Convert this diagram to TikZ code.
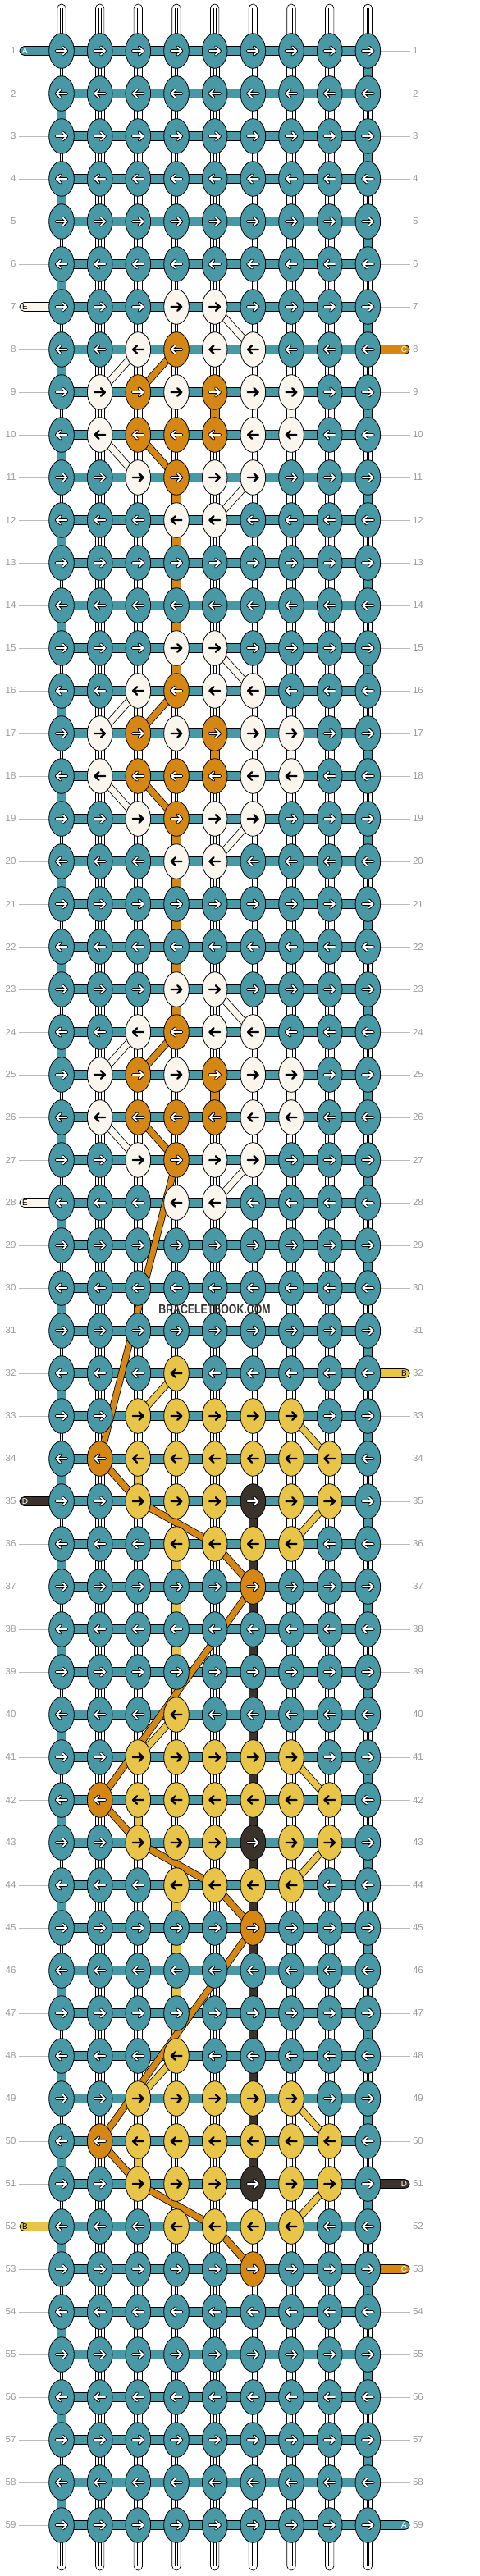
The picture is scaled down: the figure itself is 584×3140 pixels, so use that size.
\documentclass[tikz,border=0pt]{standalone}
\usepackage{fontspec}
\setmainfont{Liberation Sans}
\usetikzlibrary{shapes.geometric,calc}

\definecolor{kA}{HTML}{4898A6}
\definecolor{kB}{HTML}{E8C548}
\definecolor{kC}{HTML}{D58716}
\definecolor{kD}{HTML}{3A332B}
\definecolor{kE}{HTML}{FAF6EE}
\definecolor{numgray}{HTML}{999999}
\definecolor{linegray}{HTML}{BBBBBB}

\newcommand{\setknot}[3]{\expandafter\xdef\csname kc-#1-#2\endcsname{#3}}
\newcommand{\setvert}[3]{\expandafter\xdef\csname vc-#1-#2\endcsname{#3}}

\tikzset{
  knot/.style={ellipse,draw=black,line width=0.8pt,minimum width=30.6pt,minimum height=42.6pt,inner sep=0pt},
  bar/.style={fill=kA,draw=black,line width=0.8pt},
  strand/.style={fill=white,draw=black,line width=0.7pt},
  strandmid/.style={draw=black,line width=0.5pt},
  rowline/.style={linegray,line width=0.9pt},
  rownum/.style={text=numgray,font=\fontsize{11.5}{12}\selectfont},
  endlbl/.style={font=\fontsize{10}{10}\selectfont,inner sep=0pt},
  arroutA/.style={black,line width=3.8pt},
  arroutC/.style={black,line width=3.8pt},
  arroutD/.style={black,line width=3.8pt},
  arroutB/.style={draw=none},
  arroutE/.style={draw=none},
  arrinA/.style={white,line width=1.8pt},
  arrinC/.style={white,line width=1.8pt},
  arrinD/.style={white,line width=1.8pt},
  arrinB/.style={black,line width=2.4pt},
  arrinE/.style={black,line width=2.4pt},
  lblA/.style={text=white},
  lblB/.style={text=black},
  lblC/.style={text=white},
  lblD/.style={text=white},
  lblE/.style={text=black}
}

\begin{document}
\begin{tikzpicture}[x=1pt,y=-1pt]
\useasboundingbox (0,0) rectangle (584,3140);

\foreach \rw in {1,...,59}
  \foreach \cl in {1,...,9}
    \coordinate (p-\rw-\cl) at ({75+(\cl-1)*46.67},{62+(\rw-1)*52});

\foreach \base in {7,15,23}
  \foreach \dr/\cl/\kc in {0/4/E,0/5/E,1/3/E,1/4/C,1/5/E,1/6/E,2/2/E,2/3/C,2/4/E,2/5/C,2/6/E,2/7/E,3/2/E,3/3/C,3/4/C,3/5/C,3/6/E,3/7/E,4/3/E,4/4/C,4/5/E,4/6/E,5/4/E,5/5/E}
    {\pgfmathtruncatemacro\rw{\base+\dr}\setknot{\rw}{\cl}{\kc}}
\foreach \base in {32,40,48}
  \foreach \dr/\cl/\kc in {0/4/B,1/3/B,1/4/B,1/5/B,1/6/B,1/7/B,2/2/C,2/3/B,2/4/B,2/5/B,2/6/B,2/7/B,2/8/B,3/3/B,3/4/B,3/5/B,3/6/D,3/7/B,3/8/B,4/4/B,4/5/B,4/6/B,4/7/B,5/6/C}
    {\pgfmathtruncatemacro\rw{\base+\dr}\setknot{\rw}{\cl}{\kc}}

\foreach \rw in {1,3,...,57} {\setvert{\rw}{9}{A}}
\foreach \rw in {2,4,...,58} {\setvert{\rw}{1}{A}}
\foreach \rw in {11,12,13,14,15,19,20,21,22,23} {\setvert{\rw}{4}{C}}
\foreach \rw in {9,17,25} {\setvert{\rw}{5}{C}\setvert{\rw}{7}{E}}
\foreach \rw in {34,42,50} {\setvert{\rw}{3}{B}}
\foreach \rw in {36,37,38,39,44,45,46,47} {\setvert{\rw}{4}{B}}
\foreach \rw in {35,...,50} {\setvert{\rw}{6}{D}}

\foreach \rw in {1,...,59}{
  \node[rownum,anchor=east] (nl-\rw) at ($(p-\rw-1)+(-52,0)$) {\rw};
  \node[rownum,anchor=west] (nr-\rw) at ($(p-\rw-9)+(51.2,0)$) {\rw};
  \draw[rowline] (nl-\rw.east) -- (p-\rw-1);
  \draw[rowline] (nr-\rw.west) -- (p-\rw-9);
}

\foreach \cl in {1,...,9}{
  \coordinate (t-\cl) at ($(p-1-\cl)+(0,-57)$);
  \coordinate (u-\cl) at ($(p-59-\cl)+(0,55)$);
  \draw[strand,rounded corners=5.2pt] ($(t-\cl)+(-5.2,0)$) rectangle ($(p-1-\cl)+(5.2,0)$);
  \draw[strandmid] ($(t-\cl)+(-1.3,5)$) -- ($(p-1-\cl)+(-1.3,0)$) ($(t-\cl)+(1.3,5)$) -- ($(p-1-\cl)+(1.3,0)$);
  \draw[strand,rounded corners=5.2pt] ($(p-59-\cl)+(-5.2,0)$) rectangle ($(u-\cl)+(5.2,0)$);
  \draw[strandmid] ($(p-59-\cl)+(-1.3,0)$) -- ($(u-\cl)+(-1.3,-5)$) ($(p-59-\cl)+(1.3,0)$) -- ($(u-\cl)+(1.3,-5)$);
}

\foreach \rw in {1,...,58}{
  \pgfmathtruncatemacro\rn{\rw+1}
  \foreach \cl in {1,...,9}{
    \ifcsname vc-\rw-\cl\endcsname
      \edef\kc{\csname vc-\rw-\cl\endcsname}
      \draw[fill=k\kc,draw=black,line width=0.7pt] ($(p-\rw-\cl)+(-5.2,0)$) rectangle ($(p-\rn-\cl)+(5.2,0)$);
    \else
      \draw[strand] ($(p-\rw-\cl)+(-5.2,0)$) rectangle ($(p-\rn-\cl)+(5.2,0)$);
      \draw[strandmid] ($(p-\rw-\cl)+(-1.3,0)$) -- ($(p-\rn-\cl)+(-1.3,0)$) ($(p-\rw-\cl)+(1.3,0)$) -- ($(p-\rn-\cl)+(1.3,0)$);
    \fi
  }
}

\foreach \rw in {1,...,59}
  \draw[bar] ($(p-\rw-1)+(0,-5.5)$) rectangle ($(p-\rw-9)+(0,5.5)$);

\foreach \rw/\kc in {1/A,7/E,28/E,35/D,52/B}{
  \draw[fill=k\kc,draw=black,line width=0.8pt,rounded corners=5.5pt] ($(p-\rw-1)+(-51,-5.5)$) rectangle ($(p-\rw-1)+(0,5.5)$);
  \node[endlbl,lbl\kc] (el-\rw) at ($(p-\rw-1)+(-44.5,0)$) {\kc};
}
\foreach \rw/\kc in {8/C,32/B,51/D,53/C,59/A}{
  \draw[fill=k\kc,draw=black,line width=0.8pt,rounded corners=5.5pt] ($(p-\rw-9)+(0,-5.5)$) rectangle ($(p-\rw-9)+(50.7,5.5)$);
  \node[endlbl,lbl\kc] (er-\rw) at ($(p-\rw-9)+(44.2,0)$) {\kc};
}

\foreach \base in {7,15,23}
  \foreach \dr/\ca/\cb/\kc in {0/5/6/E,1/3/2/E,1/4/3/C,3/2/3/E,3/3/4/C,4/6/5/E}{
    \pgfmathtruncatemacro\rw{\base+\dr}
    \pgfmathtruncatemacro\rn{\rw+1}
    \draw[line width=9pt] (p-\rw-\ca) -- (p-\rn-\cb);
    \draw[k\kc,line width=7.4pt] (p-\rw-\ca) -- (p-\rn-\cb);
  }
\foreach \base in {32,40,48}
  \foreach \dr/\ca/\cb/\kc in {0/4/3/B,1/7/8/B,2/2/3/C,3/3/5/C,3/8/7/B,4/5/6/C}{
    \pgfmathtruncatemacro\rw{\base+\dr}
    \pgfmathtruncatemacro\rn{\rw+1}
    \draw[line width=9pt] (p-\rw-\ca) -- (p-\rn-\cb);
    \draw[k\kc,line width=7.4pt] (p-\rw-\ca) -- (p-\rn-\cb);
  }
\foreach \ra/\ca/\rb/\cb in {27/4/34/2,37/6/42/2,45/6/50/2}{
  \draw[line width=8.6pt] (p-\ra-\ca) -- (p-\rb-\cb);
  \draw[kC,line width=7pt] (p-\ra-\ca) -- (p-\rb-\cb);
}

\foreach \rw in {1,...,59}{
  \ifodd\rw \def\dir{1}\else\def\dir{-1}\fi
  \foreach \cl in {1,...,9}{
    \ifcsname kc-\rw-\cl\endcsname \edef\kc{\csname kc-\rw-\cl\endcsname}\else\def\kc{A}\fi
    \node[knot,fill=k\kc] (k-\rw-\cl) at (p-\rw-\cl) {};
    \begin{scope}[shift={(p-\rw-\cl)},xscale=\dir]
      \draw[arrout\kc,line cap=round,line join=round] (-6.5,0) -- (6,0) (1.2,-4.8) -- (6.2,0) -- (1.2,4.8);
      \draw[arrin\kc,line cap=round,line join=round] (-6.5,0) -- (6,0) (1.2,-4.8) -- (6.2,0) -- (1.2,4.8);
    \end{scope}
  }
}

\node[text=black!80,font=\bfseries\fontsize{16}{16}\selectfont] (mark) at (261.5,1596) {\scalebox{0.77}[1]{BRACELETBOOK.COM}};
\end{tikzpicture}
\end{document}
